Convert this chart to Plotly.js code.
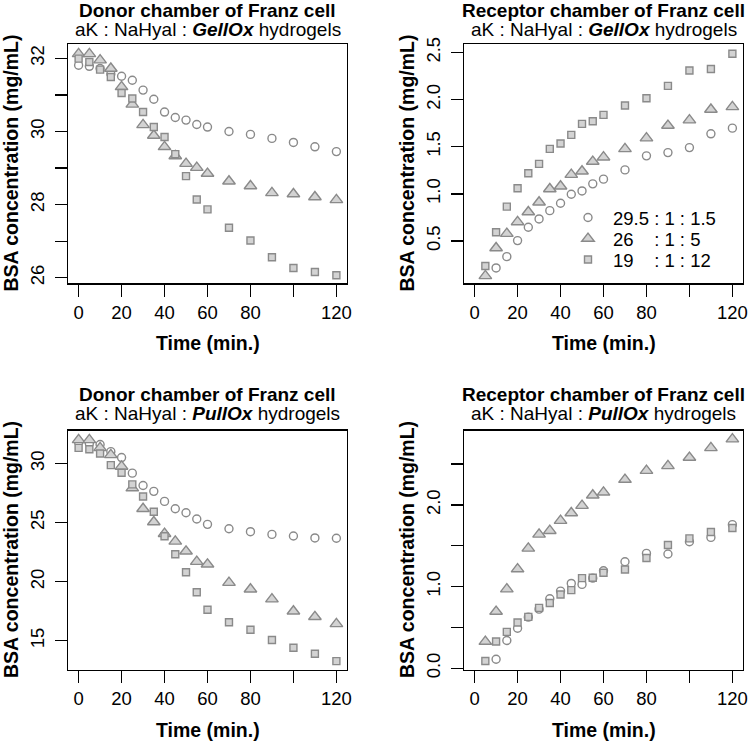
<!DOCTYPE html>
<html>
<head>
<meta charset="utf-8">
<script src="https://cdn.plot.ly/plotly-3.0.1.min.js"></script>
<style>html,body{margin:0;padding:0;background:#fff;}#chart{width:750px;height:742px;}</style>
</head>
<body>
<div id="chart"></div>
<script>
// ---- data ----
const timeDonor = [0, 5, 10, 15, 20, 25, 30, 35, 40, 45, 50, 55, 60, 70, 80, 90, 100, 110, 120];
const timeReceptor = [5, 10, 15, 20, 25, 30, 35, 40, 45, 50, 55, 60, 70, 80, 90, 100, 110, 120];
const timeReceptorCircle = [10, 15, 20, 25, 30, 35, 40, 45, 50, 55, 60, 70, 80, 90, 100, 110, 120];

const seriesNames = ["29.5 : 1 : 1.5", "26\u00A0\u00A0\u00A0 : 1 : 5", "19\u00A0\u00A0\u00A0 : 1 : 12"];

// GellOx, donor chamber
const donorGell_295 = [31.81, 31.78, 31.72, 31.57, 31.51, 31.4, 31.13, 30.88, 30.53, 30.38, 30.31, 30.19, 30.12, 30.0, 29.92, 29.81, 29.7, 29.58, 29.45];
const donorGell_26 = [32.12, 32.12, 31.95, 31.72, 31.22, 30.74, 30.18, 29.89, 29.58, 29.33, 29.12, 29.01, 28.85, 28.64, 28.51, 28.32, 28.29, 28.21, 28.13];
const donorGell_19 = [31.99, 31.9, 31.69, 31.49, 31.05, 30.9, 30.53, 30.12, 29.85, 29.38, 28.78, 28.14, 27.87, 27.37, 27.02, 26.56, 26.27, 26.16, 26.07];

// GellOx, receptor chamber
const recGell_295 = [0.214, 0.334, 0.504, 0.646, 0.734, 0.822, 0.9, 0.996, 1.031, 1.106, 1.156, 1.254, 1.403, 1.438, 1.491, 1.637, 1.697];
const recGell_26 = [0.13, 0.426, 0.578, 0.702, 0.808, 0.911, 1.052, 1.081, 1.204, 1.24, 1.343, 1.389, 1.477, 1.591, 1.725, 1.782, 1.895, 1.923];
const recGell_19 = [0.235, 0.593, 0.865, 1.06, 1.219, 1.318, 1.477, 1.534, 1.626, 1.743, 1.771, 1.838, 1.937, 2.015, 2.146, 2.309, 2.324, 2.486];

// PullOx, donor chamber
const donorPull_295 = [31.8, 31.7, 31.6, 31.0, 30.5, 29.18, 28.14, 27.64, 26.79, 26.17, 25.83, 25.3, 24.85, 24.48, 24.23, 24.0, 23.86, 23.7, 23.67];
const donorPull_26 = [32.0, 32.0, 31.32, 30.73, 29.75, 27.92, 26.17, 25.05, 24.06, 23.41, 22.57, 21.7, 21.47, 19.92, 19.36, 18.52, 17.5, 17.03, 16.43];
const donorPull_19 = [31.32, 31.21, 30.84, 29.86, 29.21, 28.23, 27.21, 25.92, 23.84, 22.32, 20.8, 19.11, 17.62, 16.57, 15.93, 15.06, 14.41, 13.9, 13.28];

// PullOx, receptor chamber
const recPull_295 = [0.11, 0.34, 0.49, 0.626, 0.724, 0.851, 0.945, 1.039, 1.027, 1.104, 1.194, 1.305, 1.407, 1.399, 1.55, 1.603, 1.759];
const recPull_26 = [0.327, 0.695, 0.969, 1.215, 1.468, 1.64, 1.685, 1.808, 1.902, 1.992, 2.119, 2.155, 2.311, 2.421, 2.479, 2.581, 2.699, 2.806];
const recPull_19 = [0.09, 0.327, 0.446, 0.56, 0.63, 0.74, 0.80, 0.904, 0.957, 1.104, 1.108, 1.17, 1.21, 1.35, 1.509, 1.591, 1.669, 1.718];

// ticks
const xTickVals = [0, 20, 40, 60, 80, 100, 120];
const xTickText = ["0", "20", "40", "60", "80", "", "120"];
const y1TickVals = [26, 27, 28, 29, 30, 31, 32];
const y1TickText = ["26", "", "28", "", "30", "", "32"];
const y2TickVals = [0.5, 1.0, 1.5, 2.0, 2.5];
const y2TickText = ["0.5", "1.0", "1.5", "2.0", "2.5"];
const y3TickVals = [15, 20, 25, 30];
const y3TickText = ["15", "20", "25", "30"];
const y4TickVals = [0.0, 0.5, 1.0, 1.5, 2.0, 2.5];
const y4TickText = ["0.0", "", "1.0", "", "2.0", ""];

// ---- styling ----
const FONT = "Liberation Sans, Arial, Helvetica, sans-serif";
const EDGE = "#8a8a8a";
const FILL = "#d3d3d3";
const symCircle = {symbol: "circle", size: 8, color: "rgba(0,0,0,0)", line: {color: EDGE, width: 1.4}};
const symTri = {symbol: "triangle-up", size: 11, color: FILL, line: {color: EDGE, width: 1.4}};
const symSq = {symbol: "square", size: 7, color: FILL, line: {color: EDGE, width: 1.4}};
const legendIds = ["legend", "legend2", "legend3"];

function panelTraces(xa, ya, xc, yc, xo, yt, ys, withLegend) {
  const mk = (x, y, marker, i) => ({
    x: x, y: y, xaxis: xa, yaxis: ya, type: "scatter", mode: "markers", marker: marker,
    name: seriesNames[i], showlegend: withLegend, legend: legendIds[i], hoverinfo: "x+y"
  });
  return [mk(xc, yc, symCircle, 0), mk(xo, yt, symTri, 1), mk(xo, ys, symSq, 2)];
}

const data = [].concat(
  panelTraces("x", "y", timeDonor, donorGell_295, timeDonor, donorGell_26, donorGell_19, false),
  panelTraces("x2", "y2", timeReceptorCircle, recGell_295, timeReceptor, recGell_26, recGell_19, true),
  panelTraces("x3", "y3", timeDonor, donorPull_295, timeDonor, donorPull_26, donorPull_19, false),
  panelTraces("x4", "y4", timeReceptorCircle, recPull_295, timeReceptor, recPull_26, recPull_19, false)
);

function xAxis(domain, anchor) {
  return {
    domain: domain, anchor: anchor, range: [-4.8, 124.8],
    tickmode: "array", tickvals: xTickVals, ticktext: xTickText,
    ticks: "outside", ticklen: 12, tickwidth: 1.3, tickcolor: "#000",
    showline: true, mirror: true, linecolor: "#000", linewidth: 1.3,
    showgrid: false, zeroline: false, ticklabelstandoff: 0,
    tickfont: {family: FONT, size: 18.5, color: "#000"}
  };
}
function yAxis(domain, anchor, range, vals, text) {
  return {
    domain: domain, anchor: anchor, range: range,
    tickmode: "array", tickvals: vals, ticktext: text, tickangle: -90,
    ticks: "outside", ticklen: 12, tickwidth: 1.3, tickcolor: "#000",
    showline: true, mirror: true, linecolor: "#000", linewidth: 1.3,
    showgrid: false, zeroline: false, ticklabelstandoff: 4,
    tickfont: {family: FONT, size: 18.5, color: "#000"}
  };
}

const W = 750, H = 742;
const px = v => v / W;
const py = v => 1 - v / H;
const xdL = [px(68.3), px(346.7)];
const xdR = [px(464.3), px(742.7)];
const ydT = [py(283.3), py(44)];
const ydB = [py(669.5), py(430.5)];

function ann(text, x, y, size, angle) {
  return {text: text, xref: "paper", yref: "paper", x: x, y: y, xanchor: "center", yanchor: "middle",
          showarrow: false, borderpad: 0, textangle: angle || 0, font: {family: FONT, size: size, color: "#000"}};
}
const cxL = px(207.5), cxR = px(603.5);
const annotations = [
  ann("<b>Donor chamber of Franz cell</b>", cxL, py(10.5), 19),
  ann("aK : NaHyal : <b><i>GellOx</i></b> hydrogels", cxL, py(29.5), 19),
  ann("<b>Receptor chamber of Franz cell</b>", cxR, py(10.5), 19),
  ann("aK : NaHyal : <b><i>GellOx</i></b> hydrogels", cxR, py(29.5), 19),
  ann("<b>Donor chamber of Franz cell</b>", cxL, py(394.5), 19),
  ann("aK : NaHyal : <b><i>PullOx</i></b> hydrogels", cxL, py(414), 19),
  ann("<b>Receptor chamber of Franz cell</b>", cxR, py(394.5), 19),
  ann("aK : NaHyal : <b><i>PullOx</i></b> hydrogels", cxR, py(414), 19),
  ann("<b>Time (min.)</b>", cxL, py(343.3), 19.5),
  ann("<b>Time (min.)</b>", cxR, py(343.3), 19.5),
  ann("<b>Time (min.)</b>", cxL, py(730), 19.5),
  ann("<b>Time (min.)</b>", cxR, py(730), 19.5),
  ann("<b>BSA concentration (mg/mL)</b>", px(11), py(163.6), 19.5, -90),
  ann("<b>BSA concentration (mg/mL)</b>", px(407), py(163.6), 19.5, -90),
  ann("<b>BSA concentration (mg/mL)</b>", px(11), py(550), 19.5, -90),
  ann("<b>BSA concentration (mg/mL)</b>", px(407), py(550), 19.5, -90)
];

function legendAt(rowCenter) {
  return {x: px(563), y: py(rowCenter - 19.5), xanchor: "left", yanchor: "top", bgcolor: "rgba(0,0,0,0)",
          borderwidth: 0, itemwidth: 40, font: {family: FONT, size: 18.5, color: "#000"}};
}

const layout = {
  width: W, height: H,
  margin: {l: 0, r: 0, t: 0, b: 0},
  paper_bgcolor: "#fff", plot_bgcolor: "#fff",
  font: {family: FONT, color: "#000"},
  showlegend: true,
  legend: legendAt(218.5),
  legend2: legendAt(239.5),
  legend3: legendAt(260.5),
  xaxis: xAxis(xdL, "y"),
  yaxis: yAxis(ydT, "x", [25.85, 32.39], y1TickVals, y1TickText),
  xaxis2: xAxis(xdR, "y2"),
  yaxis2: yAxis(ydT, "x2", [0.051, 2.59], y2TickVals, y2TickText),
  xaxis3: xAxis(xdL, "y3"),
  yaxis3: yAxis(ydB, "x3", [12.57, 32.79], y3TickVals, y3TickText),
  xaxis4: xAxis(xdR, "y4"),
  yaxis4: yAxis(ydB, "x4", [-0.015, 2.912], y4TickVals, y4TickText),
  annotations: annotations
};

Plotly.newPlot("chart", data, layout, {staticPlot: true, displayModeBar: false});
</script>
</body>
</html>
